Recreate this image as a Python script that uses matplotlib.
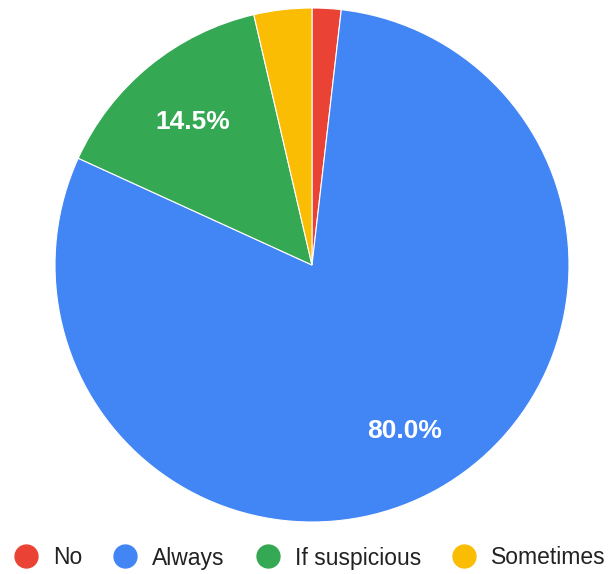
import matplotlib.pyplot as plt
from matplotlib.lines import Line2D

labels = ['No', 'Always', 'If suspicious', 'Sometimes']
counts = [1, 44, 8, 2]
colors = ['#EA4335', '#4285F4', '#34A853', '#FBBC04']

W, H = 611, 574
fig = plt.figure(figsize=(W / 100, H / 100), dpi=100)
ax = fig.add_axes([55 / W, (H - 522) / H, 514 / W, 514 / H])


def pct(p):
    return '%.1f%%' % p if p > 5 else ''


wedges, texts, autotexts = ax.pie(
    counts, colors=colors, startangle=90, counterclock=False,
    autopct=pct, pctdistance=0.73,
    wedgeprops=dict(edgecolor='white', linewidth=0.8),
    textprops=dict(color='white', fontsize=19, fontweight='bold',
                   family='Liberation Sans'))
for t in autotexts:
    t.set_va('center_baseline')
ax.set_xlim(-1, 1)
ax.set_ylim(-1, 1)
ax.set_aspect('equal')

handles = [Line2D([], [], marker='o', linestyle='', markersize=16.5,
                  markerfacecolor=c, markeredgecolor=c) for c in colors]
leg = fig.legend(handles, labels, loc='center', bbox_to_anchor=(310 / W, (H - 558) / H),
                 ncol=4, frameon=False, handletextpad=0.68, columnspacing=1.38,
                 handlelength=1.0, borderpad=0, borderaxespad=0,
                 prop=dict(family='Liberation Sans', size=16.5))
for t in leg.get_texts():
    t.set_color('#222222')

fig.savefig('out.png', dpi=100)
